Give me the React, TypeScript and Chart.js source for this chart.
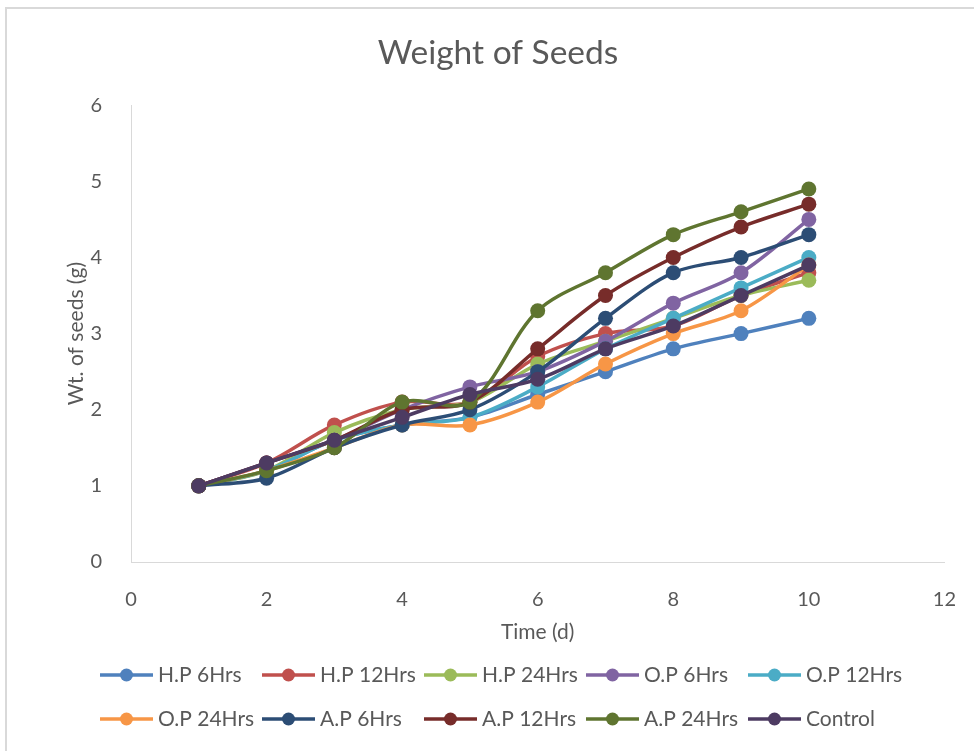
import React, { useEffect, useRef } from 'react';
import { Chart, registerables } from 'chart.js';

Chart.register(...registerables);

const days = [1, 2, 3, 4, 5, 6, 7, 8, 9, 10];

const hp6 = [1, 1.2, 1.6, 1.8, 1.9, 2.2, 2.5, 2.8, 3.0, 3.2];
const hp12 = [1, 1.3, 1.8, 2.1, 2.1, 2.7, 3.0, 3.1, 3.5, 3.8];
const hp24 = [1, 1.2, 1.7, 2.0, 2.1, 2.6, 2.9, 3.2, 3.5, 3.7];
const op6 = [1, 1.3, 1.6, 2.0, 2.3, 2.5, 2.9, 3.4, 3.8, 4.5];
const op12 = [1, 1.2, 1.6, 1.8, 1.9, 2.3, 2.8, 3.2, 3.6, 4.0];
const op24 = [1, 1.2, 1.5, 1.8, 1.8, 2.1, 2.6, 3.0, 3.3, 3.9];
const ap6 = [1, 1.1, 1.5, 1.8, 2.0, 2.5, 3.2, 3.8, 4.0, 4.3];
const ap12 = [1, 1.3, 1.6, 2.0, 2.1, 2.8, 3.5, 4.0, 4.4, 4.7];
const ap24 = [1, 1.2, 1.5, 2.1, 2.1, 3.3, 3.8, 4.3, 4.6, 4.9];
const control = [1, 1.3, 1.6, 1.9, 2.2, 2.4, 2.8, 3.1, 3.5, 3.9];

const seriesNames = [
  'H.P 6Hrs', 'H.P 12Hrs', 'H.P 24Hrs', 'O.P 6Hrs', 'O.P 12Hrs',
  'O.P 24Hrs', 'A.P 6Hrs', 'A.P 12Hrs', 'A.P 24Hrs', 'Control',
];
const seriesColors = [
  '#4F81BD', '#C0504D', '#9BBB59', '#8064A2', '#4BACC6',
  '#F79646', '#2C4D75', '#772C2A', '#5F7530', '#4D3B62',
];

const chartTitle = 'Weight of Seeds';
const xTitle = 'Time (d)';
const yTitle = 'Wt. of seeds (g)';

const FONT = 'Lato, "Open Sans", sans-serif';
const TEXT = '#595959';

export default function App() {
  const ref = useRef<HTMLCanvasElement>(null);

  useEffect(() => {
    const series = [hp6, hp12, hp24, op6, op12, op24, ap6, ap12, ap24, control];
    const n = series.length;

    const legendPlugin = {
      id: 'excelLegend',
      afterDraw(chart: any) {
        const ctx = chart.ctx;
        ctx.save();
        chart.data.datasets.forEach((ds: any, i: number) => {
          const col = i % 5;
          const row = Math.floor(i / 5);
          const x = 100 + col * 162;
          const y = 675 + row * 44;
          ctx.strokeStyle = ds.borderColor;
          ctx.lineWidth = 3.5;
          ctx.beginPath();
          ctx.moveTo(x, y);
          ctx.lineTo(x + 53, y);
          ctx.stroke();
          ctx.fillStyle = ds.borderColor;
          ctx.beginPath();
          ctx.arc(x + 26.5, y, 6.5, 0, Math.PI * 2);
          ctx.fill();
          ctx.fillStyle = TEXT;
          ctx.font = `21px ${FONT}`;
          ctx.textBaseline = 'middle';
          ctx.textAlign = 'left';
          ctx.fillText(ds.label, x + 58, y);
        });
        ctx.restore();
      },
    };

    const chart = new Chart(ref.current as HTMLCanvasElement, {
      type: 'scatter',
      data: {
        datasets: series.map((s, i) => ({
          label: seriesNames[i],
          data: days.map((d, j) => ({ x: d, y: s[j] })),
          showLine: true,
          borderColor: seriesColors[i],
          backgroundColor: seriesColors[i],
          pointBackgroundColor: seriesColors[i],
          pointBorderColor: seriesColors[i],
          pointRadius: 7.5,
          pointBorderWidth: 0,
          borderWidth: 3.5,
          tension: 0.33,
          order: n - 1 - i,
        })),
      },
      options: {
        responsive: false,
        animation: false,
        layout: { padding: { left: 44, right: 22, top: 0, bottom: 94 } },
        plugins: {
          legend: { display: false },
          tooltip: { enabled: false },
          title: {
            display: true,
            text: chartTitle,
            color: TEXT,
            font: { family: FONT, size: 33.5, weight: 'normal' },
            padding: { top: 33, bottom: 32 },
          },
        },
        scales: {
          x: {
            type: 'linear',
            min: 0,
            max: 12,
            ticks: { stepSize: 2, color: TEXT, font: { family: FONT, size: 20 }, padding: 18 },
            grid: { display: false },
            border: { display: true, color: '#d9d9d9', width: 1 },
            title: {
              display: true,
              text: xTitle,
              color: TEXT,
              font: { family: FONT, size: 21 },
              padding: { top: 0, bottom: 12 },
            },
            afterFit(s: any) {
              s.height = 95;
            },
          },
          y: {
            type: 'linear',
            min: 0,
            max: 6,
            ticks: { stepSize: 1, color: TEXT, font: { family: FONT, size: 20 }, padding: 21 },
            grid: { display: false },
            border: { display: true, color: '#d9d9d9', width: 1 },
            title: {
              display: true,
              text: yTitle,
              color: TEXT,
              font: { family: FONT, size: 21 },
              padding: { top: 20, bottom: 0 },
            },
            afterFit(s: any) {
              s.width = 87;
            },
          },
        },
      } as any,
      plugins: [legendPlugin],
    });
    return () => chart.destroy();
  }, []);

  return (
    <div style={{ position: 'absolute', left: 0, top: 0, width: 974, height: 751, background: '#fff' }}>
      <div
        style={{
          position: 'absolute',
          left: 5,
          top: 7,
          right: 0,
          bottom: 0,
          borderLeft: '2px solid #d9d9d9',
          borderTop: '2px solid #d9d9d9',
        }}
      />
      <canvas ref={ref} width={974} height={751} style={{ position: 'absolute', left: 0, top: 0 }} />
    </div>
  );
}
